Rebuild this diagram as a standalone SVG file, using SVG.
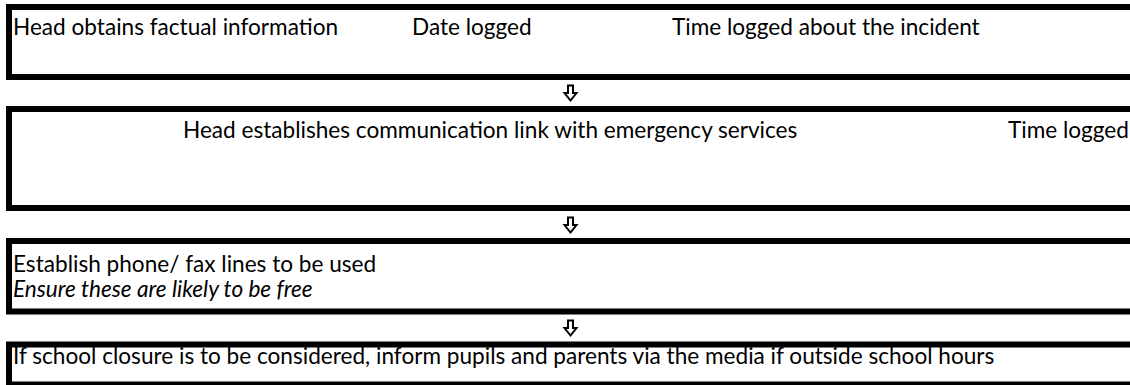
<svg xmlns="http://www.w3.org/2000/svg" width="1130" height="385" viewBox="0 0 1130 385">
  <style>
    .box { fill: #ffffff; stroke: #000000; stroke-width: 6; }
    .t { font-family: Lato, "Open Sans", "Liberation Sans", sans-serif; font-size: 22.6px; fill: #000000; }
    .it { font-style: italic; }
    .arrow { fill: #ffffff; stroke: #000000; stroke-width: 2; stroke-linejoin: miter; }
  </style>
  <defs>
    <!-- hollow downward arrow, drawn around its own origin -->
    <path id="downArrow" d="M-2.5,-7.5 H2.5 V0 H6 L0,7.5 L-6,0 H-2.5 Z"/>
  </defs>
  <rect width="1130" height="385" fill="#ffffff"/>

  <g id="node-facts">
    <rect class="box" x="9" y="7" width="1140" height="70"/>
    <text class="t" x="13" y="35">Head obtains factual information</text>
    <text class="t" x="412" y="35">Date logged</text>
    <text class="t" x="672" y="35">Time logged about the incident</text>
  </g>

  <g id="node-link">
    <rect class="box" x="9" y="109" width="1140" height="99"/>
    <text class="t" x="183" y="138">Head establishes communication link with emergency services</text>
    <text class="t" x="1008" y="138">Time logged</text>
  </g>

  <g id="node-lines">
    <rect class="box" x="9" y="241" width="1140" height="70.5"/>
    <text class="t" x="13" y="272">Establish phone/ fax lines to be used</text>
    <text class="t it" x="13" y="297">Ensure these are likely to be free</text>
  </g>

  <g id="node-closure">
    <rect class="box" x="9" y="344.5" width="1140" height="40"/>
    <text class="t" x="13" y="364">If school closure is to be considered, inform pupils and parents via the media if outside school hours</text>
  </g>

  <g id="connectors">
    <use href="#downArrow" class="arrow" x="570.5" y="93"/>
    <use href="#downArrow" class="arrow" x="570.5" y="225"/>
    <use href="#downArrow" class="arrow" x="570.5" y="328"/>
  </g>
</svg>
